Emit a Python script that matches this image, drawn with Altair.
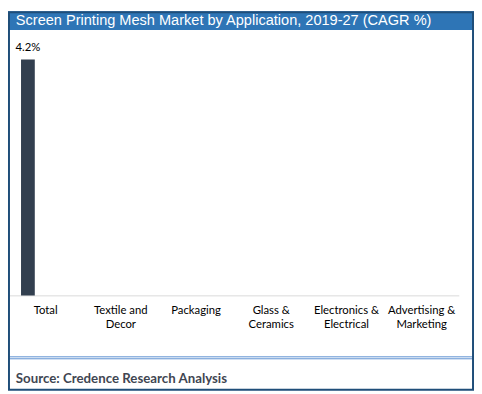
import altair as alt
import pandas as pd

# ---- data ----
categories = ["Total", "Textile and\nDecor", "Packaging", "Glass &\nCeramics",
              "Electronics &\nElectrical", "Advertising &\nMarketing"]
cagr_values = [4.2, None, None, None, None, None]
bar_labels = ["4.2%", "", "", "", "", ""]

title_text = "Screen Printing Mesh Market by Application, 2019-27 (CAGR %)"
source_text = "Source: Credence Research Analysis"

W, H = 474, 386
df = pd.DataFrame({"category": categories, "value": cagr_values, "label": bar_labels})

xscale = alt.Scale(domain=categories, range=[0, 459], paddingInner=0, paddingOuter=0)
yscale = alt.Scale(domain=[0, 5], range=[289, 3.3], nice=False)

base = alt.Chart(df)

bars = base.transform_filter("isValid(datum.value)").mark_bar(
    width=14, xOffset=-18, color="#323F4F"
).encode(
    x=alt.X("category:N", scale=xscale, axis=None, sort=None),
    y=alt.Y("value:Q", scale=yscale, axis=None),
)

bar_text = base.transform_filter("isValid(datum.value)").mark_text(
    xOffset=-18, dy=-9, baseline="alphabetic", font="Lato", fontSize=11.5, color="#000000"
).encode(
    x=alt.X("category:N", scale=xscale, axis=None, sort=None),
    y=alt.Y("value:Q", scale=yscale, axis=None),
    text="label:N",
)

cat_text = base.mark_text(
    lineBreak="\n", baseline="alphabetic", font="Lato", fontSize=11.5, color="#000000", lineHeight=14.5
).encode(
    x=alt.X("category:N", scale=xscale, axis=None, sort=None),
    y=alt.value(308),
    text="category:N",
)

one = alt.Data(values=[{"k": 1}])

baseline = alt.Chart(one).mark_rule(color="#D9D9D9", strokeWidth=1).encode(
    x=alt.value(0), x2=alt.value(459), y=alt.value(289.5)
)

header = alt.Chart(one).mark_rect(color="#2E75B6").encode(
    x=alt.value(0), x2=alt.value(W), y=alt.value(0), y2=alt.value(19)
)

header_text = alt.Chart(one).mark_text(
    align="left", baseline="middle", font="Liberation Sans", fontSize=14.8, color="#FFFFFF"
).encode(x=alt.value(8), y=alt.value(10), text=alt.value(title_text))

line1 = alt.Chart(one).mark_rule(color="#5B8FD0", strokeWidth=1).encode(
    x=alt.value(0), x2=alt.value(W), y=alt.value(351.5)
)
line2 = alt.Chart(one).mark_rule(color="#5B8FD0", strokeWidth=1).encode(
    x=alt.value(0), x2=alt.value(W), y=alt.value(353.5)
)

source = alt.Chart(one).mark_text(
    align="left", baseline="alphabetic", font="Lato", fontSize=13.5, fontWeight="bold", color="#3F4652"
).encode(x=alt.value(8), y=alt.value(378.5), text=alt.value(source_text))

border = alt.Chart(one).mark_rect(fill=None, stroke="#1F4E79", strokeWidth=2).encode(
    x=alt.value(1), x2=alt.value(W - 1), y=alt.value(1), y2=alt.value(H - 1)
)

chart = alt.layer(
    header, header_text, baseline, bars, bar_text, cat_text, line1, line2, source, border
).properties(
    width=W, height=H, padding=0,
    autosize=alt.AutoSizeParams(type="none"),
    background="#FFFFFF",
).configure_view(stroke=None)

chart.save("out.html", embed_options={"renderer": "svg", "actions": False})
